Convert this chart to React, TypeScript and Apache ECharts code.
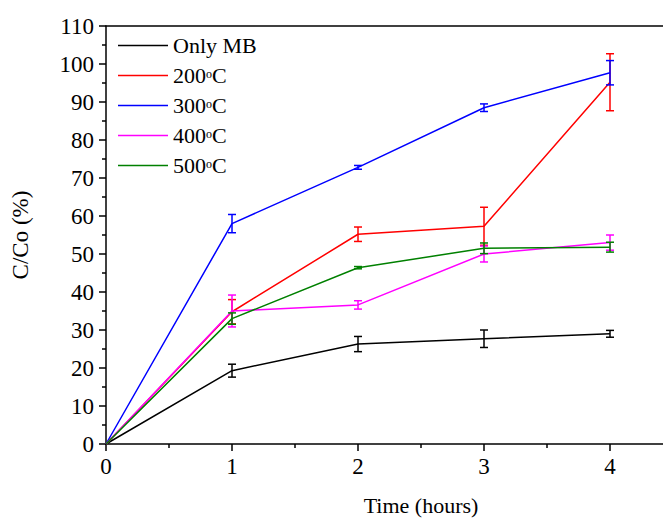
import React, { useEffect, useRef } from "react";
import * as echarts from "echarts";

const times = [0, 1, 2, 3, 4];
const seriesNames = ["Only MB", "200oC", "300oC", "400oC", "500oC"];
const legendLabels = ["Only MB", "200{sup|o}C", "300{sup|o}C", "400{sup|o}C", "500{sup|o}C"];
const colors = ["#000000", "#ff0000", "#0000ff", "#ff00ff", "#008000"];

const onlyMB = [0, 19.3, 26.3, 27.7, 29.0];
const onlyMBErr = [0, 1.7, 2.0, 2.3, 0.9];
const t200 = [0, 34.8, 55.2, 57.3, 95.2];
const t200Err = [0, 3.2, 1.9, 5.0, 7.5];
const t300 = [0, 58.0, 72.8, 88.5, 97.7];
const t300Err = [0, 2.4, 0.5, 1.0, 3.2];
const t400 = [0, 35.0, 36.6, 50.0, 53.0];
const t400Err = [0, 4.2, 1.1, 2.1, 2.0];
const t500 = [0, 33.0, 46.4, 51.5, 51.8];
const t500Err = [0, 1.5, 0.3, 1.4, 1.3];

const yTicks = { min: 0, max: 110, interval: 10 };
const xTicks = { min: 0, max: 5, interval: 1 };

const allValues = [onlyMB, t200, t300, t400, t500];
const allErrs = [onlyMBErr, t200Err, t300Err, t400Err, t500Err];

const FONT = "'Liberation Serif', 'DejaVu Serif', serif";

export default function App() {
  const ref = useRef<HTMLDivElement>(null);
  useEffect(() => {
    if (!ref.current) return;
    const chart = echarts.init(ref.current, null, { renderer: "svg" });

    const lineSeries = allValues.map((vals, i) => ({
      name: seriesNames[i],
      type: "line",
      data: times.map((t, j) => [t, vals[j]]),
      showSymbol: false,
      symbol: "none",
      lineStyle: { color: colors[i], width: 1.5 },
      itemStyle: { color: colors[i] },
      z: 3 + i,
    }));

    const errSeries = allValues.map((vals, i) => ({
      name: "err" + i,
      type: "custom",
      z: 3 + i,
      data: times
        .map((t, j) => [t, vals[j] - allErrs[i][j], vals[j] + allErrs[i][j]])
        .filter((_, j) => allErrs[i][j] > 0),
      renderItem: (params: any, api: any) => {
        const x = api.value(0);
        const lo = api.coord([x, api.value(1)]);
        const hi = api.coord([x, api.value(2)]);
        const hw = 4;
        const style = { stroke: colors[i], lineWidth: 1.5, fill: "none" };
        return {
          type: "group",
          children: [
            { type: "line", shape: { x1: lo[0], y1: lo[1], x2: hi[0], y2: hi[1] }, style },
            { type: "line", shape: { x1: lo[0] - hw, y1: lo[1], x2: lo[0] + hw, y2: lo[1] }, style },
            { type: "line", shape: { x1: hi[0] - hw, y1: hi[1], x2: hi[0] + hw, y2: hi[1] }, style },
          ],
        };
      },
    }));

    const option: any = {
      animation: false,
      backgroundColor: "#ffffff",
      textStyle: { fontFamily: FONT },
      grid: { left: 106, top: 26, right: -73, bottom: 74, outerBoundsMode: "none" },
      legend: {
        orient: "vertical",
        left: 113,
        top: 29,
        icon: "rect",
        itemWidth: 50,
        itemHeight: 1.5,
        itemGap: 7,
        data: seriesNames.map((n, i) => ({ name: n, icon: "rect", itemStyle: { color: colors[i] } })),
        formatter: (name: string) => legendLabels[seriesNames.indexOf(name)],
        textStyle: {
          fontFamily: FONT,
          fontSize: 22,
          lineHeight: 23,
          color: "#000",
          rich: { sup: { fontFamily: FONT, fontSize: 12, color: "#000", padding: [0, 0, 3, 0] } },
        },
      },
      xAxis: [
        {
          type: "value",
          min: xTicks.min,
          max: xTicks.max,
          interval: xTicks.interval,
          name: "Time (hours)",
          nameLocation: "middle",
          nameGap: 50,
          nameTextStyle: { fontFamily: FONT, fontSize: 22, color: "#000" },
          axisLine: { show: true, onZero: false, lineStyle: { color: "#000", width: 1.5 } },
          axisTick: { show: true, length: 7, lineStyle: { color: "#000", width: 1.5 } },
          minorTick: { show: true, splitNumber: 2, length: 4, lineStyle: { color: "#000", width: 1.5 } },
          axisLabel: {
            fontFamily: FONT,
            fontSize: 23,
            color: "#000",
            margin: 11,
            formatter: (v: number) => (v <= 4 ? String(v) : ""),
          },
          splitLine: { show: false },
        },
        {
          type: "value",
          position: "top",
          min: xTicks.min,
          max: xTicks.max,
          axisLine: { show: true, onZero: false, lineStyle: { color: "#000", width: 1.5 } },
          axisTick: { show: false },
          axisLabel: { show: false },
          splitLine: { show: false },
        },
      ],
      yAxis: {
        type: "value",
        min: yTicks.min,
        max: yTicks.max,
        interval: yTicks.interval,
        name: "C/Co (%)",
        nameLocation: "middle",
        nameRotate: 90,
        nameGap: 74,
        nameTextStyle: { fontFamily: FONT, fontSize: 23, color: "#000" },
        axisLine: { show: true, onZero: false, lineStyle: { color: "#000", width: 1.5 } },
        axisTick: { show: true, length: 7, lineStyle: { color: "#000", width: 1.5 } },
        minorTick: { show: true, splitNumber: 2, length: 4, lineStyle: { color: "#000", width: 1.5 } },
        axisLabel: { fontFamily: FONT, fontSize: 23, color: "#000", margin: 12 },
        splitLine: { show: false },
      },
      series: [...lineSeries, ...errSeries],
    };
    chart.setOption(option);
    return () => chart.dispose();
  }, []);
  return (
    <div
      ref={ref}
      style={{ position: "absolute", left: 0, top: 0, width: 663, height: 518, overflow: "hidden" }}
    />
  );
}
